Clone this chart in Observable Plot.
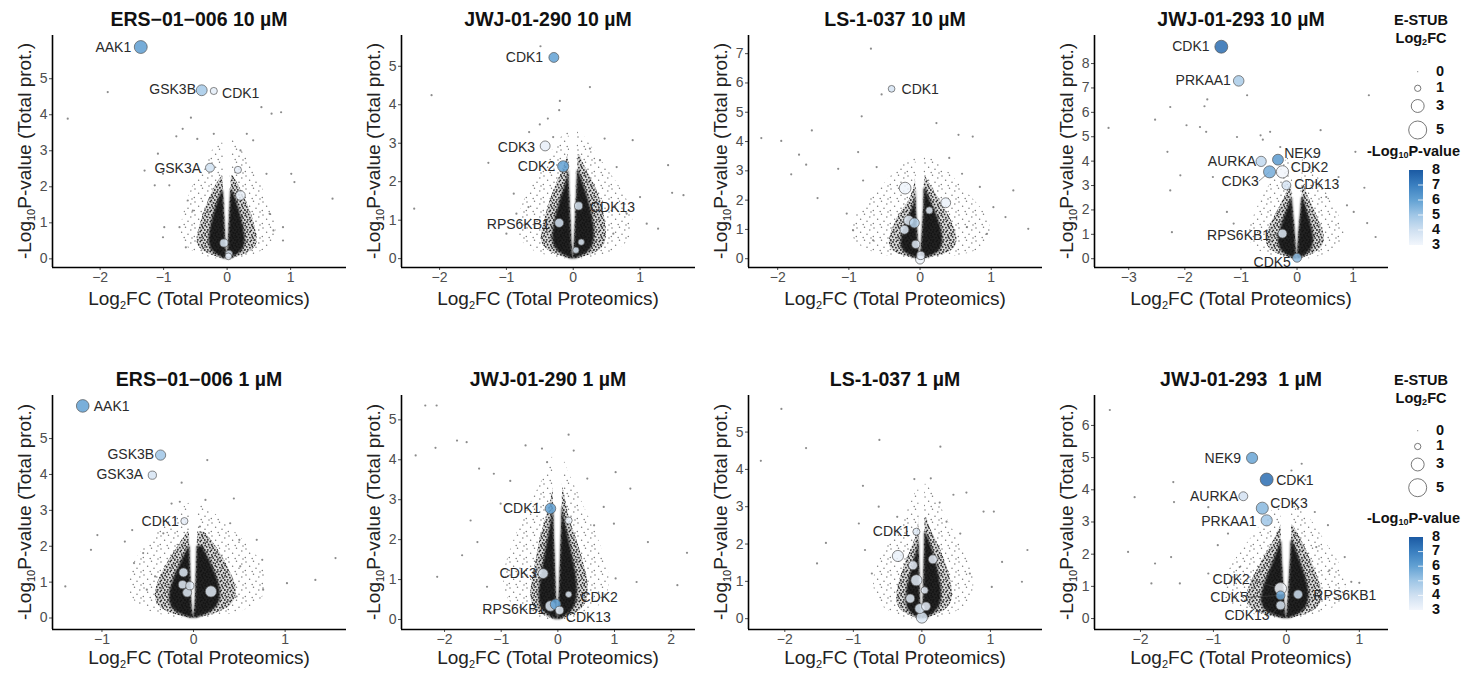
<!DOCTYPE html>
<html><head><meta charset="utf-8">
<script src="https://cdn.jsdelivr.net/npm/d3@7"></script>
<script src="https://cdn.jsdelivr.net/npm/@observablehq/plot@0.6"></script>
<style>
body{margin:0;background:#fff;font-family:"Liberation Sans",Arial,sans-serif;}
#chart{position:relative;width:1461px;height:679px;overflow:hidden;background:#fff;}
.ptitle{position:absolute;transform:translate(-50%,-50%);font-weight:bold;font-size:19.5px;color:#111;white-space:pre;}
.xt{position:absolute;transform:translate(-50%,-50%);font-size:19px;color:#222;white-space:nowrap;}
.yt{position:absolute;transform:translate(-50%,-50%) rotate(-90deg);font-size:19px;color:#222;white-space:nowrap;}
.xt sub,.yt sub{font-size:11px;vertical-align:-4px;line-height:0;}
g[aria-label="area"][fill="#111"]{filter:blur(0.8px);}
</style></head><body>
<svg width="0" height="0" style="position:absolute;left:0;top:0">
  <defs>
    <pattern id="sparseDots" width="17" height="13" patternUnits="userSpaceOnUse">
      <g fill="#7a7a7a">
      <circle cx="2" cy="2" r="0.75"/><circle cx="9.5" cy="1.2" r="0.75"/><circle cx="14.8" cy="4.1" r="0.75"/>
      <circle cx="5.6" cy="6.3" r="0.75"/><circle cx="12" cy="8.2" r="0.75"/><circle cx="1.3" cy="10.4" r="0.75"/>
      <circle cx="8.2" cy="11.6" r="0.75"/><circle cx="16" cy="12.1" r="0.75"/>
      </g>
    </pattern>
    <pattern id="denseDots" width="10" height="10" patternUnits="userSpaceOnUse">
      <g fill="#1a1a1a">
      <circle cx="1" cy="1" r="0.9"/><circle cx="4.3" cy="0.6" r="0.9"/><circle cx="7.6" cy="1.9" r="0.9"/>
      <circle cx="2.6" cy="3.4" r="0.9"/><circle cx="5.8" cy="3.9" r="0.9"/><circle cx="9.1" cy="4.6" r="0.9"/>
      <circle cx="0.7" cy="5.9" r="0.9"/><circle cx="3.9" cy="6.7" r="0.9"/><circle cx="7.2" cy="7.1" r="0.9"/>
      <circle cx="1.8" cy="8.8" r="0.9"/><circle cx="5.3" cy="9.3" r="0.9"/><circle cx="8.8" cy="9.0" r="0.9"/>
      <circle cx="9.5" cy="2.6" r="0.8"/><circle cx="6.4" cy="5.6" r="0.8"/>
      </g>
    </pattern>
  </defs>
</svg>
<div id="chart"></div>
<script>
// ---------- data ----------
const panelTitles = ["ERS\u221201\u2212006 10 \u00b5M","JWJ-01-290 10 \u00b5M","LS-1-037 10 \u00b5M","JWJ-01-293 10 \u00b5M",
                     "ERS\u221201\u2212006 1 \u00b5M","JWJ-01-290 1 \u00b5M","LS-1-037 1 \u00b5M","JWJ-01-293  1 \u00b5M"];
const xDomains = [[-2.75,1.88],[-2.57,1.83],[-2.41,1.72],[-3.61,1.63],[-1.54,1.67],[-2.76,2.43],[-2.53,1.76],[-2.63,1.40]];
const yDomains = [[-0.24,6.2],[-0.23,5.8],[-0.3,7.62],[-0.36,9.15],[-0.32,6.2],[-0.25,5.61],[-0.29,5.98],[-0.34,6.93]];
const xTicks = [[-2,-1,0,1],[-2,-1,0,1],[-2,-1,0,1],[-3,-2,-1,0,1],[-1,0,1],[-2,-1,0,1,2],[-2,-1,0,1],[-2,-1,0,1]];
const yTicks = [[0,1,2,3,4,5],[0,1,2,3,4,5],[0,1,2,3,4,5,6,7],[0,1,2,3,4,5,6,7,8],[0,1,2,3,4,5],[0,1,2,3,4,5],[0,1,2,3,4,5],[0,1,2,3,4,5,6]];

// kinases: [name, log2FC total, -log10 p total, E-STUB log2FC, E-STUB -log10 p, label x, label y, connector]
const kin_ERS10 = [
 ["AAK1",-1.36,5.88,3.0,6.1,-1.51,5.88,0],["GSK3B",-0.40,4.68,2.3,4.9,-0.49,4.69,0],
 ["CDK1",-0.21,4.66,1.2,3.4,-0.08,4.60,0],["GSK3A",-0.27,2.53,1.7,4.0,-0.41,2.52,0],
 ["",0.17,2.47,1.2,3.3],["",0.21,1.76,1.9,3.2],["",-0.05,0.44,1.5,3.7],["",0.03,0.14,1.2,3.5],["",0.02,0.07,1.1,3.3]];
const kin_JWJ290_10 = [
 ["CDK1",-0.29,5.23,2.0,6.0,-0.45,5.23,0],["CDK3",-0.42,2.93,2.0,3.3,-0.57,2.90,0],
 ["CDK2",-0.15,2.40,2.4,6.0,-0.27,2.40,0],["CDK13",0.08,1.37,1.5,3.7,0.25,1.34,0],
 ["RPS6KB1",-0.21,0.93,1.7,3.8,-0.35,0.89,0],["",0.12,0.43,1.0,3.6],["",0.04,0.22,1.0,3.6]];
const kin_LS10 = [
 ["CDK1",-0.40,5.80,1.1,3.8,-0.26,5.77,0],["",-0.21,2.41,2.6,3.1],["",0.36,1.91,2.0,3.2],["",0.13,1.65,1.2,3.4],
 ["",-0.16,1.31,2.0,3.4],["",-0.08,1.22,2.0,4.5],["",-0.22,0.99,1.7,3.5],["",-0.06,0.49,1.5,3.5],
 ["",0.01,0.11,1.5,3.3],["",0.0,-0.03,1.7,3.1]];
const kin_JWJ293_10 = [
 ["CDK1",-1.35,8.69,3.0,7.5,-1.56,8.69,0],["PRKAA1",-1.04,7.29,2.2,4.8,-1.18,7.29,0],
 ["AURKA",-0.64,3.99,2.1,4.3,-0.73,3.99,0],["NEK9",-0.34,4.06,2.3,6.2,-0.23,4.32,0],
 ["CDK3",-0.49,3.56,2.7,5.7,-0.68,3.18,1],["CDK2",-0.26,3.56,2.8,3.0,-0.11,3.75,0],
 ["CDK13",-0.19,3.01,1.7,3.8,-0.05,3.03,0],["RPS6KB1",-0.26,1.03,1.7,3.5,-0.48,0.96,1],
 ["CDK5",0.0,0.04,1.7,5.3,-0.11,-0.14,0]];
const kin_ERS1 = [
 ["AAK1",-1.21,5.91,2.9,6.0,-1.09,5.88,0],["GSK3B",-0.36,4.54,2.1,5.0,-0.43,4.56,0],
 ["GSK3A",-0.45,3.98,1.5,3.8,-0.55,4.0,0],["CDK1",-0.10,2.70,1.2,3.3,-0.16,2.68,0],
 ["",-0.11,1.27,1.7,3.5],["",-0.12,0.93,1.5,3.4],["",-0.04,0.90,1.5,3.4],["",-0.07,0.71,1.7,3.5],["",0.19,0.74,2.4,3.4]];
const kin_JWJ290_1 = [
 ["CDK1",-0.13,2.78,2.2,6.0,-0.31,2.79,0],["CDK3",-0.26,1.15,2.0,3.5,-0.37,1.14,0],
 ["",0.19,2.48,1.2,3.1],["CDK2",0.19,0.63,1.0,3.5,0.40,0.56,0],
 ["RPS6KB1",-0.13,0.34,2.2,3.6,-0.22,0.24,0],["",-0.04,0.38,2.2,6.0],["CDK13",0.03,0.23,1.5,3.4,0.14,0.04,0]];
const kin_LS1 = [
 ["CDK1",-0.08,2.33,1.2,3.5,-0.17,2.33,0],["",-0.35,1.68,2.4,3.2],["",-0.13,1.43,1.7,3.3],["",0.16,1.59,1.7,3.3],
 ["",-0.08,1.03,2.4,3.4],["",0.04,0.76,1.2,3.3],["",-0.17,0.54,1.7,3.4],["",0.06,0.33,1.7,3.3],
 ["",-0.03,0.27,2.0,3.7],["",0.0,0.03,2.4,3.7]];
const kin_JWJ293_1 = [
 ["NEK9",-0.47,4.99,2.4,5.9,-0.62,4.98,0],["CDK1",-0.27,4.32,3.0,7.5,-0.14,4.29,0],
 ["AURKA",-0.59,3.80,1.7,3.9,-0.66,3.78,0],["CDK3",-0.33,3.43,2.7,5.4,-0.22,3.56,0],
 ["PRKAA1",-0.27,3.05,2.4,5.0,-0.41,3.02,0],["CDK2",-0.08,0.93,2.7,3.0,-0.50,1.21,1],
 ["CDK5",-0.08,0.72,1.7,5.8,-0.53,0.66,1],["CDK13",-0.08,0.41,1.7,3.7,-0.23,0.08,1],
 ["RPS6KB1",0.16,0.75,1.7,4.0,0.37,0.72,0]];

// sparse background proteins [log2FC, -log10 p]
const bg_ERS10 = [[-1.88,4.63],[-2.51,3.89],[-0.57,3.92],[0.54,4.21],[0.85,4.07],[0.70,4.03],[-0.70,3.61],[-0.80,3.40],[-0.47,3.33],[-1.09,2.92],[-1.01,2.36],[-1.30,2.45],[-1.14,2.04],[-0.91,2.04],[-0.99,0.88],[-1.01,0.60],[-0.65,0.32],[1.01,2.36],[1.06,2.13],[1.66,1.67],[0.88,0.88],[0.88,0.51],[0.73,0.79],[0.67,1.25],[0.62,2.36],[0.41,3.29],[0.21,3.01],[0.31,3.47],[-0.21,3.47],[-0.54,1.34],[-0.62,1.62],[-0.75,0.88]];
const bg_JWJ290_10 = [[-2.12,4.25],[-2.38,1.30],[-0.49,5.52],[0.25,4.46],[-0.38,3.64],[-0.21,3.86],[-0.50,3.49],[-0.66,3.29],[-1.27,2.49],[-0.89,1.69],[-1.0,0.65],[0.89,3.08],[1.42,2.43],[1.48,1.71],[1.65,1.65],[1.27,0.78],[1.0,1.60],[0.65,2.38],[0.40,2.56],[0.25,2.86],[0.47,3.12],[-0.30,3.16],[-0.67,1.34],[-0.85,1.17],[0.80,1.17],[1.10,0.91],[0.60,0.65],[-0.2,4.1]];
const bg_LS10 = [[-0.69,7.17],[-0.54,5.61],[-0.82,4.86],[-1.52,4.38],[-2.23,4.12],[-1.95,4.02],[-1.70,3.55],[-1.60,3.21],[-1.81,2.88],[-1.44,2.07],[-1.15,3.07],[-0.87,3.64],[0.23,4.63],[0.54,4.23],[0.74,4.17],[0.41,3.44],[1.31,2.33],[1.20,1.42],[1.52,1.02],[1.03,1.76],[0.84,2.45],[0.59,2.90],[-0.61,3.13],[-0.80,2.67],[-1.03,1.54],[-0.94,0.97],[-0.66,0.63],[0.66,1.08],[0.94,0.85]];
const bg_JWJ293_10 = [[-1.60,6.53],[-1.65,6.25],[-2.26,6.22],[-2.53,5.70],[-3.36,5.36],[-1.97,5.47],[-1.73,5.40],[-1.62,5.20],[-0.89,6.70],[-0.65,5.06],[-1.07,4.99],[-2.31,4.38],[-2.08,3.42],[-2.26,2.80],[-1.50,3.35],[-2.23,1.09],[-1.25,1.92],[-0.61,4.88],[-0.48,5.20],[0.42,5.27],[1.28,6.70],[1.04,4.38],[1.20,2.91],[1.40,0.89],[1.25,1.46],[0.89,2.19],[0.74,3.35],[0.30,4.17],[0.52,2.53],[1.01,1.92],[-0.30,4.58],[-1.13,1.44]];
const bg_ERS1 = [[-1.40,0.88],[-1.05,2.31],[-1.12,1.90],[-0.75,2.13],[-0.67,2.45],[-0.55,1.81],[-0.24,3.19],[-0.13,3.77],[-0.15,3.24],[0.15,4.40],[0.13,3.29],[0.40,2.64],[0.44,3.33],[0.50,2.18],[0.69,2.18],[0.75,1.62],[1.02,0.97],[1.33,1.06],[1.55,1.67],[0.76,0.79],[0.47,0.60],[-0.51,0.79],[-0.42,1.16],[-0.65,1.53],[-0.33,2.36],[0.07,2.55],[0.25,1.81],[0.51,1.44]];
const bg_JWJ290_1 = [[-2.34,5.36],[-2.14,5.36],[-2.51,4.11],[-2.16,4.30],[-1.78,4.48],[-1.61,4.44],[-0.57,4.36],[0.19,4.63],[-2.13,1.07],[-1.69,1.61],[-1.42,1.94],[-1.39,3.78],[-1.13,3.65],[-1.25,0.82],[1.02,3.69],[1.28,3.28],[1.59,1.94],[2.28,1.67],[2.11,0.86],[1.39,0.94],[1.02,1.03],[0.81,2.82],[0.64,2.36],[0.99,2.40],[-0.28,4.28],[-0.19,3.94],[0.28,4.23],[0.52,3.53],[-0.84,3.47],[-1.01,2.90],[-1.54,2.48]];
const bg_LS1 = [[-2.05,5.62],[-1.69,4.57],[-2.35,4.23],[-0.62,4.79],[0.27,4.61],[-0.86,3.56],[-0.11,3.74],[0.13,3.76],[0.26,3.11],[0.46,3.32],[0.65,3.38],[0.90,2.87],[1.05,2.87],[1.54,1.84],[1.46,0.99],[1.17,1.52],[1.02,0.85],[0.70,1.21],[-1.40,2.03],[-1.53,1.48],[-0.92,2.55],[-0.83,1.84],[-0.73,1.21],[-0.63,3.00],[-0.36,2.73],[0.56,2.28],[0.36,2.60]];
const bg_JWJ293_1 = [[-2.42,6.48],[-2.08,3.77],[-1.55,4.24],[-1.54,3.62],[-2.17,2.07],[-1.80,1.71],[-1.58,1.91],[-1.85,1.09],[-1.46,1.09],[-0.64,1.60],[0.21,4.81],[0.26,4.31],[0.16,3.41],[0.39,3.31],[0.57,2.90],[0.89,1.14],[1.00,1.11],[0.80,1.91],[0.59,1.50],[0.41,2.22],[-0.94,2.28],[-1.07,1.40],[-0.80,2.64],[-1.07,3.46],[0.07,4.60]];

// protein cloud envelopes: [-log10 p, left edge, right edge, central gap half-width]
// core = near-solid black, mid = dense speckle, halo = sparse speckle
const core_ERS10 = [[0,-0.04,0.04,0],[0.15,-0.22,0.22,0.01],[0.4,-0.3,0.3,0.02],[0.8,-0.27,0.27,0.03],[1.2,-0.22,0.22,0.04],[1.6,-0.15,0.15,0.05],[1.9,-0.08,0.09,0.06]];
const mid_ERS10 = [[0,-0.06,0.06,0],[0.15,-0.35,0.35,0.01],[0.4,-0.5,0.5,0.02],[0.8,-0.45,0.45,0.03],[1.2,-0.38,0.4,0.04],[1.6,-0.3,0.3,0.05],[2.0,-0.2,0.2,0.06],[2.3,-0.08,0.1,0.07]];
const halo_ERS10 = [[0,-0.2,0.2,0],[0.2,-0.6,0.6,0.01],[0.6,-0.75,0.8,0.02],[1.2,-0.7,0.75,0.03],[1.8,-0.6,0.6,0.04],[2.4,-0.45,0.45,0.05],[3.0,-0.25,0.25,0.06],[3.3,-0.08,0.09,0.07]];
const core_JWJ290_10 = [[0,-0.04,0.04,0],[0.15,-0.22,0.24,0.01],[0.4,-0.32,0.32,0.02],[0.8,-0.3,0.32,0.03],[1.2,-0.25,0.28,0.04],[1.6,-0.18,0.22,0.05],[2.0,-0.1,0.14,0.06],[2.3,-0.07,0.08,0.065]];
const mid_JWJ290_10 = [[0,-0.06,0.06,0],[0.15,-0.35,0.38,0.01],[0.4,-0.5,0.5,0.02],[0.8,-0.46,0.5,0.03],[1.2,-0.4,0.46,0.04],[1.6,-0.33,0.4,0.05],[2.0,-0.24,0.3,0.06],[2.4,-0.13,0.17,0.07],[2.7,-0.08,0.1,0.075]];
const halo_JWJ290_10 = [[0,-0.2,0.2,0],[0.2,-0.7,0.75,0.01],[0.7,-0.85,0.9,0.02],[1.3,-0.8,0.9,0.03],[2.0,-0.6,0.65,0.04],[2.6,-0.4,0.4,0.05],[3.1,-0.2,0.2,0.06],[3.4,-0.08,0.09,0.07]];
const core_LS10 = [[0,-0.04,0.04,0],[0.15,-0.2,0.24,0.01],[0.4,-0.28,0.32,0.02],[0.8,-0.26,0.32,0.03],[1.2,-0.2,0.28,0.04],[1.6,-0.13,0.22,0.05],[2.0,-0.065,0.14,0.055],[2.4,-0.06,0.08,0.058]];
const mid_LS10 = [[0,-0.06,0.06,0],[0.15,-0.33,0.38,0.01],[0.4,-0.45,0.52,0.02],[0.8,-0.42,0.52,0.03],[1.2,-0.36,0.46,0.04],[1.6,-0.27,0.38,0.05],[2.0,-0.14,0.28,0.055],[2.5,-0.07,0.15,0.06],[2.8,-0.065,0.08,0.065]];
const halo_LS10 = [[0,-0.25,0.25,0],[0.2,-0.7,0.8,0.01],[0.6,-0.95,1.0,0.02],[1.2,-1.0,1.0,0.03],[1.8,-0.8,0.85,0.04],[2.4,-0.55,0.6,0.05],[3.0,-0.35,0.4,0.055],[3.5,-0.1,0.12,0.06]];
const core_JWJ293_10 = [[0,-0.04,0.04,0],[0.2,-0.24,0.2,0.01],[0.5,-0.34,0.3,0.02],[1.0,-0.33,0.3,0.03],[1.5,-0.26,0.24,0.05],[2.0,-0.18,0.18,0.07],[2.5,-0.1,0.11,0.085]];
const mid_JWJ293_10 = [[0,-0.06,0.06,0],[0.2,-0.38,0.32,0.01],[0.5,-0.55,0.48,0.02],[1.0,-0.55,0.5,0.03],[1.5,-0.45,0.4,0.05],[2.0,-0.34,0.32,0.07],[2.5,-0.22,0.2,0.09],[3.0,-0.13,0.13,0.1]];
const halo_JWJ293_10 = [[0,-0.25,0.25,0],[0.3,-0.75,0.7,0.01],[0.9,-0.9,0.9,0.02],[1.6,-0.8,0.8,0.04],[2.4,-0.65,0.6,0.06],[3.2,-0.45,0.42,0.08],[3.8,-0.28,0.27,0.09],[4.3,-0.1,0.12,0.1]];
const core_ERS1 = [[0,-0.035,0.035,0],[0.15,-0.2,0.2,0.01],[0.4,-0.27,0.29,0.02],[0.8,-0.26,0.3,0.025],[1.2,-0.2,0.25,0.03],[1.6,-0.13,0.18,0.035],[2.0,-0.05,0.1,0.04]];
const mid_ERS1 = [[0,-0.05,0.05,0],[0.15,-0.3,0.3,0.01],[0.4,-0.42,0.45,0.02],[0.8,-0.42,0.48,0.025],[1.2,-0.36,0.42,0.03],[1.6,-0.27,0.34,0.035],[2.0,-0.17,0.25,0.04],[2.4,-0.06,0.12,0.045]];
const halo_ERS1 = [[0,-0.2,0.2,0],[0.2,-0.55,0.6,0.01],[0.6,-0.7,0.8,0.02],[1.2,-0.72,0.8,0.025],[1.8,-0.6,0.7,0.03],[2.4,-0.4,0.45,0.035],[2.9,-0.2,0.25,0.04],[3.2,-0.05,0.07,0.045]];
const core_JWJ290_1 = [[0,-0.04,0.04,0],[0.15,-0.24,0.23,0.01],[0.4,-0.34,0.34,0.02],[0.8,-0.33,0.35,0.03],[1.2,-0.28,0.32,0.04],[1.6,-0.23,0.26,0.05],[2.0,-0.18,0.2,0.06],[2.5,-0.11,0.12,0.07],[2.8,-0.08,0.085,0.075]];
const mid_JWJ290_1 = [[0,-0.06,0.06,0],[0.15,-0.36,0.35,0.01],[0.4,-0.48,0.52,0.02],[0.8,-0.48,0.55,0.03],[1.2,-0.42,0.5,0.04],[1.6,-0.37,0.42,0.05],[2.0,-0.32,0.34,0.06],[2.5,-0.22,0.2,0.07],[3.0,-0.11,0.14,0.08],[3.3,-0.085,0.09,0.085]];
const halo_JWJ290_1 = [[0,-0.25,0.25,0],[0.3,-0.85,0.8,0.01],[0.9,-1.0,0.95,0.03],[1.5,-0.9,0.85,0.05],[2.1,-0.75,0.7,0.06],[2.7,-0.55,0.5,0.07],[3.3,-0.35,0.32,0.08],[3.8,-0.15,0.15,0.085],[4.1,-0.09,0.09,0.087]];
const core_LS1 = [[0,-0.035,0.035,0],[0.15,-0.18,0.2,0.01],[0.4,-0.24,0.29,0.02],[0.8,-0.22,0.29,0.025],[1.2,-0.17,0.25,0.03],[1.6,-0.11,0.2,0.035],[2.0,-0.045,0.13,0.04],[2.3,-0.044,0.06,0.042]];
const mid_LS1 = [[0,-0.05,0.05,0],[0.15,-0.28,0.3,0.01],[0.4,-0.38,0.45,0.02],[0.8,-0.36,0.45,0.025],[1.2,-0.3,0.4,0.03],[1.6,-0.22,0.33,0.035],[2.0,-0.12,0.24,0.04],[2.4,-0.05,0.12,0.045],[2.7,-0.048,0.07,0.047]];
const halo_LS1 = [[0,-0.2,0.2,0],[0.2,-0.55,0.6,0.01],[0.7,-0.72,0.78,0.02],[1.3,-0.7,0.75,0.025],[1.9,-0.52,0.6,0.03],[2.5,-0.32,0.42,0.035],[3.1,-0.15,0.25,0.04],[3.6,-0.05,0.08,0.045]];
const core_JWJ293_1 = [[0,-0.035,0.035,0],[0.15,-0.24,0.2,0.01],[0.4,-0.35,0.3,0.02],[0.8,-0.34,0.32,0.03],[1.2,-0.28,0.28,0.04],[1.6,-0.21,0.22,0.05],[2.0,-0.14,0.16,0.06],[2.4,-0.075,0.09,0.065]];
const mid_JWJ293_1 = [[0,-0.05,0.05,0],[0.15,-0.38,0.32,0.01],[0.4,-0.55,0.48,0.02],[0.8,-0.55,0.5,0.03],[1.2,-0.47,0.45,0.04],[1.6,-0.38,0.38,0.05],[2.0,-0.28,0.3,0.06],[2.5,-0.15,0.2,0.07],[2.9,-0.075,0.09,0.072]];
const halo_JWJ293_1 = [[0,-0.2,0.2,0],[0.3,-0.8,0.72,0.01],[0.9,-0.9,0.85,0.03],[1.5,-0.8,0.8,0.05],[2.1,-0.62,0.62,0.06],[2.7,-0.42,0.45,0.07],[3.2,-0.25,0.3,0.072],[3.7,-0.08,0.1,0.074]];

// legends
const sizeLegendValues = [0,1,3,5];
const colorLegendTicks = [8,7,6,5,4,3];
const colorStops = [3,4,5,6,7,8];
const colorStopValues = ["#f2f6fc","#cfe0f1","#9fc6e6","#62a1d3","#3a7fc0","#1b5aa3"];

const panelKinases = [kin_ERS10,kin_JWJ290_10,kin_LS10,kin_JWJ293_10,kin_ERS1,kin_JWJ290_1,kin_LS1,kin_JWJ293_1];
const panelBg = [bg_ERS10,bg_JWJ290_10,bg_LS10,bg_JWJ293_10,bg_ERS1,bg_JWJ290_1,bg_LS1,bg_JWJ293_1];
const panelCore = [core_ERS10,core_JWJ290_10,core_LS10,core_JWJ293_10,core_ERS1,core_JWJ290_1,core_LS1,core_JWJ293_1];
const panelMid = [mid_ERS10,mid_JWJ290_10,mid_LS10,mid_JWJ293_10,mid_ERS1,mid_JWJ290_1,mid_LS1,mid_JWJ293_1];
const panelHalo = [halo_ERS10,halo_JWJ290_10,halo_LS10,halo_JWJ293_10,halo_ERS1,halo_JWJ290_1,halo_LS1,halo_JWJ293_1];

// ---------- layout ----------
const colLeft = [52, 401, 748, 1094];
const rowTop = [35, 395];
const PW = 294, PH = [232, 234];
const mL = 46, mR = 4, mT = 4, mB = 30;
const titleY = [19, 379], xTitleY = [299, 658];
const FONT = '"Liberation Sans", Arial, sans-serif';

const chart = document.getElementById("chart");
const colorOpt = {type: "linear", domain: colorStops, range: colorStopValues, interpolate: "rgb", clamp: true};
const rOpt = {type: "pow", exponent: 0.65, domain: [0, 5], range: [0, 9], clamp: true};
const fmtX = d => d < 0 ? "\u2212" + Math.abs(d) : String(d);
const fmtY = d => String(d);

function addDiv(cls, html, x, y) {
  const d = document.createElement("div");
  d.className = cls; d.innerHTML = html;
  d.style.left = x + "px"; d.style.top = y + "px";
  chart.appendChild(d);
}

for (let i = 0; i < 8; i++) {
  const row = i < 4 ? 0 : 1, col = i % 4;
  const xd = xDomains[i], yd = yDomains[i];
  const kin = panelKinases[i].map(d => ({name: d[0], x: d[1], y: d[2], s: d[3], p: d[4], lx: d[5], ly: d[6], seg: d[7]}));
  const lab = kin.filter(d => d.name);
  const toRows = a => a.map(d => ({y: d[0], L: d[1], R: d[2], g: d[3]}));
  const core = toRows(panelCore[i]), mid = toRows(panelMid[i]), halo = toRows(panelHalo[i]);
  const bg = panelBg[i].map(d => ({x: d[0], y: d[1]}));
  const lobes = (rows, fill, op) => [
    Plot.areaX(rows, {y: "y", x1: "L", x2: d => -d.g, fill, fillOpacity: op, curve: "basis"}),
    Plot.areaX(rows, {y: "y", x1: d => d.g, x2: "R", fill, fillOpacity: op, curve: "basis"})
  ];
  const svg = Plot.plot({
    width: mL + PW + mR, height: mT + PH[row] + mB,
    marginLeft: mL, marginRight: mR, marginTop: mT, marginBottom: mB,
    style: {background: "transparent", fontFamily: FONT, fontSize: "14px", color: "#4d4d4d", overflow: "visible"},
    x: {domain: xd, ticks: xTicks[i], tickFormat: fmtX, tickSize: 3, tickPadding: 2, label: null},
    y: {domain: yd, ticks: yTicks[i], tickFormat: fmtY, tickSize: 3, tickPadding: 2, label: null},
    r: rOpt,
    color: colorOpt,
    marks: [
      ...lobes(halo, "url(#sparseDots)", 1),
      ...lobes(mid, "url(#denseDots)", 1),
      ...lobes(mid, "#555", 0.22),
      ...lobes(core, "#111", 0.92),
      Plot.dot(bg, {x: "x", y: "y", r: 1.1, fill: "#777", fillOpacity: 0.85}),
      Plot.link(lab.filter(d => d.seg), {x1: "lx", y1: "ly", x2: "x", y2: "y", stroke: "#444", strokeWidth: 0.6}),
      Plot.dot(kin, {x: "x", y: "y", r: "s", fill: "p", fillOpacity: 0.85, stroke: "#555", strokeWidth: 0.7}),
      Plot.text(lab.filter(d => d.lx < d.x), {x: "lx", y: "ly", text: "name", textAnchor: "end", fill: "#2a2a2a", fontSize: 14}),
      Plot.text(lab.filter(d => d.lx >= d.x), {x: "lx", y: "ly", text: "name", textAnchor: "start", fill: "#2a2a2a", fontSize: 14}),
      Plot.ruleX([xd[0]], {stroke: "#000", strokeWidth: 1.6}),
      Plot.ruleY([yd[0]], {stroke: "#000", strokeWidth: 1.6})
    ]
  });
  svg.style.position = "absolute";
  svg.style.left = (colLeft[col] - mL) + "px";
  svg.style.top = (rowTop[row] - mT) + "px";
  chart.appendChild(svg);

  const cx = colLeft[col] + PW / 2;
  addDiv("ptitle", panelTitles[i], cx, titleY[row]);
  addDiv("xt", "Log<sub>2</sub>FC (Total Proteomics)", cx, xTitleY[row]);
  addDiv("yt", "-Log<sub>10</sub>P-value (Total prot.)", colLeft[col] - 27, rowTop[row] + PH[row] / 2);
}

// ---------- legends ----------
const rScale = d3.scalePow().exponent(0.65).domain([0, 5]).range([0, 9]);
const legendSvg = d3.select(chart).append("svg")
  .attr("width", 101).attr("height", 679)
  .style("position", "absolute").style("left", "1360px").style("top", "0px")
  .style("overflow", "visible").style("font-family", FONT);
const defs = legendSvg.append("defs");
const grad = defs.append("linearGradient").attr("id", "pgrad").attr("x1", 0).attr("x2", 0).attr("y1", 1).attr("y2", 0);
colorStops.forEach((s, k) => grad.append("stop").attr("offset", (s - 3) / 5).attr("stop-color", colorStopValues[k]));

const legendPos = [
  {estub: 21, log2: 39, sizes: [71.7, 88.3, 106, 130], ptitle: 152, bar: [170, 245]},
  {estub: 381, log2: 399, sizes: [430.7, 446.5, 464.5, 487.7], ptitle: 519, bar: [537, 610]}
];
legendPos.forEach(L => {
  const g = legendSvg.append("g").attr("font-weight", "bold").attr("font-size", 14.5).attr("fill", "#111");
  g.append("text").attr("x", 61).attr("y", L.estub).attr("text-anchor", "middle").attr("dominant-baseline", "middle").text("E-STUB");
  const t2 = g.append("text").attr("x", 61).attr("y", L.log2).attr("text-anchor", "middle").attr("dominant-baseline", "middle");
  t2.append("tspan").text("Log");
  t2.append("tspan").attr("font-size", 9).attr("dy", 4).text("2");
  t2.append("tspan").attr("dy", -4).text("FC");
  sizeLegendValues.forEach((v, k) => {
    legendSvg.append("circle").attr("cx", 57.7).attr("cy", L.sizes[k]).attr("r", Math.max(0.6, rScale(v)))
      .attr("fill", v === 0 ? "#888" : "#fff").attr("stroke", v === 0 ? "none" : "#555").attr("stroke-width", 0.8);
    g.append("text").attr("x", 76).attr("y", L.sizes[k]).attr("dominant-baseline", "middle").text(v);
  });
  const t3 = g.append("text").attr("x", 100).attr("y", L.ptitle).attr("text-anchor", "end").attr("dominant-baseline", "middle");
  t3.append("tspan").text("-Log");
  t3.append("tspan").attr("font-size", 9).attr("dy", 4).text("10");
  t3.append("tspan").attr("dy", -4).text("P-value");
  const [b0, b1] = L.bar;
  legendSvg.append("rect").attr("x", 49).attr("y", b0).attr("width", 14).attr("height", b1 - b0).attr("fill", "url(#pgrad)");
  const yb = d3.scaleLinear().domain([3, 8]).range([b1, b0]);
  [4, 5, 6, 7].forEach(v => legendSvg.append("line").attr("x1", 58).attr("x2", 63).attr("y1", yb(v)).attr("y2", yb(v)).attr("stroke", "#fff").attr("stroke-width", 0.8));
  colorLegendTicks.forEach(v => g.append("text").attr("x", 72).attr("y", yb(v)).attr("dominant-baseline", "middle").text(v));
});
</script></body></html>
